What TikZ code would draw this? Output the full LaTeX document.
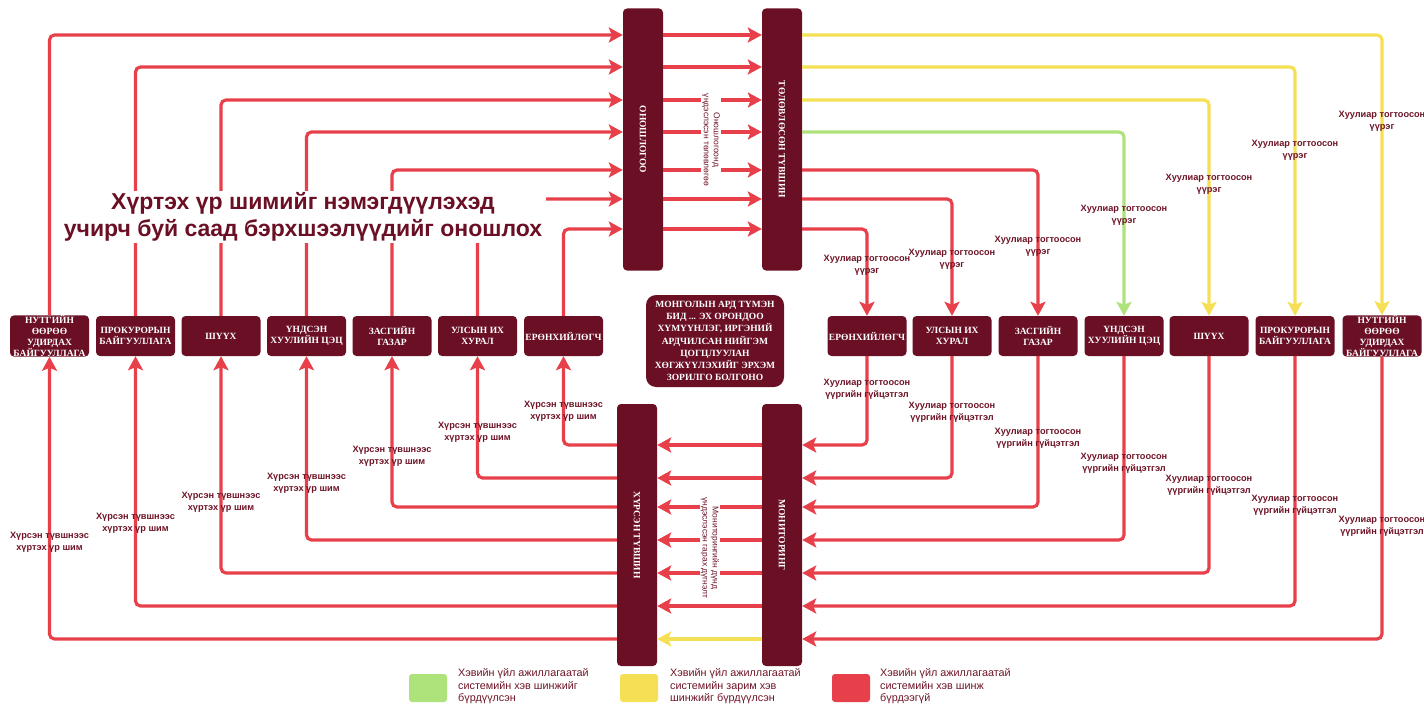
\documentclass[tikz,border=0pt]{standalone}
\usepackage{fontspec}
\setmainfont{Liberation Serif}
\newfontfamily\sansf{Liberation Sans}
\usetikzlibrary{arrows.meta}
\definecolor{boxc}{HTML}{6A0F24}
\definecolor{redc}{HTML}{E8404A}
\definecolor{yelc}{HTML}{F5DF55}
\definecolor{grnc}{HTML}{AEE27A}
\definecolor{labc}{HTML}{6E1426}
\begin{document}
\begin{tikzpicture}[x=1pt,y=-1pt,
  sbox/.style={fill=boxc, rounded corners=4pt, text=white, font=\bfseries\fontsize{9.5}{11}\selectfont, align=center, minimum width=79pt, minimum height=40pt, inner sep=0pt},
  vbox/.style={fill=boxc, rounded corners=4pt, minimum width=40pt, minimum height=262pt, inner sep=0pt},
  vtext/.style={text=white, font=\bfseries\fontsize{9.5}{11}\selectfont, rotate=-90, inner sep=0pt},
  conn/.style={line width=3.2pt, draw=redc, rounded corners=5pt, -{Stealth[length=14pt,width=15pt,inset=3pt]}},
  lbl/.style={font=\sansf\bfseries\fontsize{9.2}{12}\selectfont, text=labc, align=center, inner sep=0pt},
  mlbl/.style={font=\sansf\fontsize{8.5}{10}\selectfont, text=labc, align=center, fill=white, inner sep=1pt, rotate=-90},
  leg/.style={font=\sansf\fontsize{10.8}{12.6}\selectfont, text=labc, align=left, anchor=north west, inner sep=0pt},
  legsq/.style={rounded corners=3pt, minimum width=38pt, minimum height=28pt, inner sep=0pt}
]
\useasboundingbox (0,0) rectangle (1424,706);

% central vertical boxes
\node[vbox] (diag) at (643,139.5) {};
\node[vbox] (plan) at (782,139.5) {};
\node[vbox] (reach) at (637,535) {};
\node[vbox] (mon) at (782,535) {};
\node[vtext] (diagT) at (diag.center) {ОНОШЛОГОО};
\node[vtext] (planT) at (plan.center) {ТӨЛӨВЛӨСӨН ТҮВШИН};
\node[vtext] (reachT) at (reach.center) {ХҮРСЭН ТҮВШИН};
\node[vtext] (monT) at (mon.center) {МОНИТОРИНГ};

% left boxes
\node[sbox] (L1) at (49.5,336) {НУТГИЙН\\ӨӨРӨӨ\\УДИРДАХ\\БАЙГУУЛЛАГА};
\node[sbox] (L2) at (135.5,336) {ПРОКУРОРЫН\\БАЙГУУЛЛАГА};
\node[sbox] (L3) at (221,336) {ШҮҮХ};
\node[sbox] (L4) at (306.5,336) {ҮНДСЭН\\ХУУЛИЙН ЦЭЦ};
\node[sbox] (L5) at (392,336) {ЗАСГИЙН\\ГАЗАР};
\node[sbox] (L6) at (477.5,336) {УЛСЫН ИХ\\ХУРАЛ};
\node[sbox] (L7) at (563.5,336) {ЕРӨНХИЙЛӨГЧ};
% right boxes
\node[sbox] (R1) at (867,336) {ЕРӨНХИЙЛӨГЧ};
\node[sbox] (R2) at (952,336) {УЛСЫН ИХ\\ХУРАЛ};
\node[sbox] (R3) at (1038,336) {ЗАСГИЙН\\ГАЗАР};
\node[sbox] (R4) at (1124,336) {ҮНДСЭН\\ХУУЛИЙН ЦЭЦ};
\node[sbox] (R5) at (1209,336) {ШҮҮХ};
\node[sbox] (R6) at (1295,336) {ПРОКУРОРЫН\\БАЙГУУЛЛАГА};
\node[sbox] (R7) at (1382,336) {НУТГИЙН\\ӨӨРӨӨ\\УДИРДАХ\\БАЙГУУЛЛАГА};
% centre box
\node[sbox, minimum width=138pt, minimum height=92pt, rounded corners=10pt, font=\bfseries\fontsize{9.5}{12.2}\selectfont] (goal) at (715,341)
  {МОНГОЛЫН АРД ТҮМЭН\\БИД ... ЭХ ОРОНДОО\\ХҮМҮҮНЛЭГ, ИРГЭНИЙ\\АРДЧИЛСАН НИЙГЭМ\\ЦОГЦЛУУЛАН\\ХӨГЖҮҮЛЭХИЙГ ЭРХЭМ\\ЗОРИЛГО БОЛГОНО};

% top connectors
\foreach \i/\yy in {1/35,2/67,3/100,4/132,5/170,6/199,7/229} {
  \draw[conn] (L\i.north) |- (diag.west |- 0,\yy);
  \draw[conn] (diag.east |- 0,\yy) -- (plan.west |- 0,\yy);
}
\foreach \i/\yy/\c in {7/35/yelc,6/67/yelc,5/100/yelc,4/132/grnc,3/170/redc,2/199/redc,1/229/redc}
  \draw[conn, draw=\c] (plan.east |- 0,\yy) -| (R\i.north);

% bottom connectors
\foreach \i/\yy in {1/445,2/478,3/507,4/540,5/573,6/606,7/639}
  \draw[conn] (R\i.south) |- (mon.east |- 0,\yy);
\foreach \yy in {445,478,507,540,573,606}
  \draw[conn] (mon.west |- 0,\yy) -- (reach.east |- 0,\yy);
\draw[conn, draw=yelc] (mon.west |- 0,639) -- (reach.east |- 0,639);
\foreach \i/\yy in {7/445,6/478,5/507,4/540,3/573,2/606,1/639}
  \draw[conn] (reach.west |- 0,\yy) -| (L\i.south);

% labels top right
\foreach \i/\yy in {7/121,6/150,5/184,4/215,3/246,2/259,1/265}
  \node[lbl] (tr\i) at (R\i.north |- 0,\yy) {Хуулиар тогтоосон\\үүрэг};
% labels bottom right
\foreach \i/\yy in {1/389,2/412,3/438,4/463,5/485,6/505,7/526}
  \node[lbl] (br\i) at (R\i.south |- 0,\yy) {Хуулиар тогтоосон\\үүргийн гүйцэтгэл};
% labels bottom left
\foreach \i/\yy in {7/411,6/432,5/456,4/483,3/502,2/523,1/542}
  \node[lbl] (bl\i) at (L\i.south |- 0,\yy) {Хүрсэн түвшнээс\\хүртэх үр шим};

% middle vertical labels
\node[mlbl] (planlbl) at (711,140) {Оношлогоонд\\үндэслэсэн төлөвлөгөө};
\node[mlbl] (monlbl) at (710,548) {Мониторингийн дүнд\\үндэслэсэн гарах дүгнэлт};

% title
\node[fill=white, text=boxc, font=\sansf\bfseries\fontsize{23}{27}\selectfont, align=center, inner xsep=4pt, inner ysep=2pt] (ttl) at (303,217)
  {Хүртэх үр шимийг нэмэгдүүлэхэд\\учирч буй саад бэрхшээлүүдийг оношлох};

% legend
\node[legsq, fill=grnc] (lg1) at (428,688) {};
\node[leg] (lt1) at (458,668.5) {Хэвийн үйл ажиллагаатай\\системийн хэв шинжийг\\бүрдүүлсэн};
\node[legsq, fill=yelc] (lg2) at (639,688) {};
\node[leg] (lt2) at (670,668.5) {Хэвийн үйл ажиллагаатай\\системийн зарим хэв\\шинжийг бүрдүүлсэн};
\node[legsq, fill=redc] (lg3) at (851,688) {};
\node[leg] (lt3) at (880,668.5) {Хэвийн үйл ажиллагаатай\\системийн хэв шинж\\бүрдээгүй};
\end{tikzpicture}
\end{document}
